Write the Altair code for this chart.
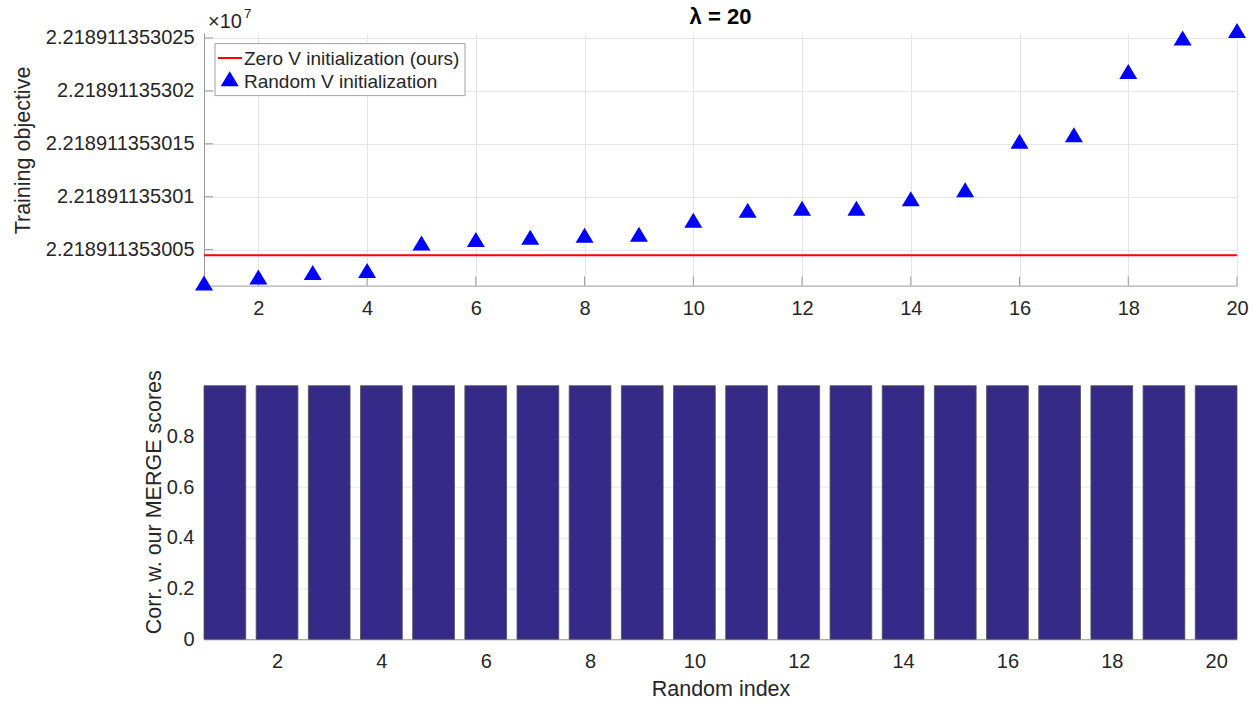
import altair as alt
import pandas as pd

FONT = "Liberation Sans"
TEXT = "#262626"
AXIS_GRAY = "#9a9a9a"
GRID = "#e6e6e6"

# ---- data ---------------------------------------------------------------
run_index = [1, 2, 3, 4, 5, 6, 7, 8, 9, 10, 11, 12, 13, 14, 15, 16, 17, 18, 19, 20]

# Training objective (x1e7) of each random-V run, stored as the offset
# above 2.21891135300 in units of 1e-12
random_v_objective = [1.60, 2.17, 2.60, 2.79, 5.40, 5.73, 5.93, 6.12, 6.21, 7.53,
                      8.48, 8.67, 8.67, 9.58, 10.43, 15.00, 15.63, 21.60, 24.76, 25.47]
# Objective reached with the zero-V initialization (same units)
zero_v_objective = [4.46]

# Correlation of each random run with our MERGE scores
merge_corr = [0.9999, 0.9999, 0.9999, 0.9999, 0.9999, 0.9999, 0.9999, 0.9999, 0.9999, 0.9999,
              0.9999, 0.9999, 0.9999, 0.9999, 0.9999, 0.9999, 0.9999, 0.9999, 0.9999, 0.9999]

series_names = ["Zero V initialization (ours)", "Random V initialization"]

obj_tick_values = [5, 10, 15, 20, 25]
obj_tick_labels = ["2.218911353005", "2.21891135301", "2.218911353015",
                   "2.21891135302", "2.218911353025"]
x_tick_values = [2, 4, 6, 8, 10, 12, 14, 16, 18, 20]
corr_tick_values = [0, 0.2, 0.4, 0.6, 0.8]

# ---- layout -------------------------------------------------------------
W = 1033
H_TOP = 252.6
H_BOT = 253.5

# triangle with its centroid on the data point
TRIANGLE = "M0,-1.111L1,0.556L-1,0.556Z"

label_expr = "".join(
    f"datum.value == {v} ? '{s}' : " for v, s in zip(obj_tick_values, obj_tick_labels)
) + "''"

df_runs = pd.DataFrame({"run": run_index, "objective": random_v_objective})
df_zero = pd.DataFrame({"objective": zero_v_objective})
df_corr = pd.DataFrame({"run": run_index, "corr": merge_corr})

x_top_scale = alt.Scale(domain=[min(run_index), max(run_index)], nice=False, zero=False)
y_top_scale = alt.Scale(domain=[min(random_v_objective), max(random_v_objective)],
                        nice=False, zero=False)

x_top_axis = alt.Axis(values=x_tick_values, title=None, grid=True, labelFlush=False,
                      labelPadding=13)
y_top_axis = alt.Axis(values=obj_tick_values, labelExpr=label_expr, grid=True,
                      title="Training objective", titleX=-192, titleY=117,
                      titleBaseline="top", titleAngle=270, labelPadding=10)

X_RUN = alt.X("run:Q", scale=x_top_scale, axis=x_top_axis)
Y_OBJ = alt.Y("objective:Q", scale=y_top_scale, axis=y_top_axis)

# ---- top panel: training objective ---------------------------------------
points = alt.Chart(df_runs).mark_point(
    shape=TRIANGLE, filled=True, size=324, color="#0000ff", opacity=1
).encode(x=X_RUN, y=Y_OBJ)

zero_line = alt.Chart(df_zero).mark_rule(color="#ff0000", strokeWidth=2).encode(y=Y_OBJ)

# inward tick marks
y_ticks = alt.Chart(pd.DataFrame({"objective": obj_tick_values})).mark_rule(
    color=AXIS_GRAY, strokeWidth=1
).encode(y=Y_OBJ, x=alt.value(0), x2=alt.value(9))

x_ticks = alt.Chart(pd.DataFrame({"run": x_tick_values})).mark_rule(
    color=AXIS_GRAY, strokeWidth=1
).encode(x=X_RUN, y=alt.value(H_TOP), y2=alt.value(H_TOP - 9))

# legend box and entries
legend_box = alt.Chart(pd.DataFrame({"k": [0]})).mark_rect(
    fill="white", stroke="#a0a0a0", strokeWidth=1
).encode(x=alt.value(11), x2=alt.value(261), y=alt.value(10.6), y2=alt.value(62.6))

legend_line = alt.Chart(pd.DataFrame({"k": [0]})).mark_rule(
    color="#ff0000", strokeWidth=2
).encode(x=alt.value(14), x2=alt.value(38), y=alt.value(25))

legend_tri = alt.Chart(pd.DataFrame({"k": [0]})).mark_point(
    shape=TRIANGLE, filled=True, size=324, color="#0000ff", opacity=1
).encode(x=alt.value(25.7), y=alt.value(48.3))

legend_text1 = alt.Chart(pd.DataFrame({"name": [series_names[0]]})).mark_text(
    align="left", baseline="middle", font=FONT, fontSize=19, color=TEXT
).encode(text="name:N", x=alt.value(40), y=alt.value(25.5))

legend_text2 = alt.Chart(pd.DataFrame({"name": [series_names[1]]})).mark_text(
    align="left", baseline="middle", font=FONT, fontSize=19, color=TEXT
).encode(text="name:N", x=alt.value(40), y=alt.value(48.5))

# axis multiplier "x10^7"
mult = alt.Chart(pd.DataFrame({"t": ["\u00d710"]})).mark_text(
    align="left", baseline="alphabetic", font=FONT, fontSize=20, color=TEXT
).encode(text="t:N", x=alt.value(4), y=alt.value(-4.7))

mult_exp = alt.Chart(pd.DataFrame({"t": ["7"]})).mark_text(
    align="left", baseline="alphabetic", font=FONT, fontSize=13.5, color=TEXT
).encode(text="t:N", x=alt.value(40), y=alt.value(-14.7))

title = alt.Chart(pd.DataFrame({"t": ["\u03bb = 20"]})).mark_text(
    align="center", baseline="alphabetic", font=FONT, fontSize=22, fontWeight="bold",
    color="#000000"
).encode(text="t:N", x=alt.value(W / 2), y=alt.value(-8.7))

top = alt.layer(
    zero_line, y_ticks, x_ticks, points,
    legend_box, legend_line, legend_tri, legend_text1, legend_text2,
    mult, mult_exp, title,
).properties(width=W, height=H_TOP)

# ---- bottom panel: correlation bars ---------------------------------------
bars = alt.Chart(df_corr).transform_calculate(
    lo="datum.run - 0.4", hi="datum.run + 0.4"
).mark_bar(color="#352a87", stroke="#505050", strokeWidth=0.8).encode(
    x=alt.X("lo:Q", scale=alt.Scale(domain=[0.6, 20.4], nice=False, zero=False),
            axis=alt.Axis(values=x_tick_values, title="Random index", labelFlush=False,
                          labelPadding=12, titlePadding=7, grid=True)),
    x2="hi:Q",
    y=alt.Y("corr:Q", scale=alt.Scale(domain=[0, max(merge_corr)], nice=False),
            axis=alt.Axis(values=corr_tick_values, format=".1~f", grid=True,
                          title="Corr. w. our MERGE scores", titleX=-61, titleY=116,
                          titleBaseline="top", titleAngle=270, labelPadding=10)),
    y2=alt.datum(0),
).properties(width=W, height=H_BOT)

chart = alt.vconcat(top, bars, spacing=99.7, bounds="flush").properties(
    padding={"left": 12, "top": 6, "right": 5, "bottom": 5}
).configure_view(stroke=None).configure_axis(
    labelFont=FONT, labelFontSize=20, labelColor=TEXT,
    titleFont=FONT, titleFontSize=21.5, titleColor=TEXT, titleFontWeight="normal",
    domainColor=AXIS_GRAY, domainWidth=1, gridColor=GRID, gridWidth=1,
    tickSize=0, ticks=False,
)

chart.save("out.html", embed_options={"renderer": "svg", "actions": False})
